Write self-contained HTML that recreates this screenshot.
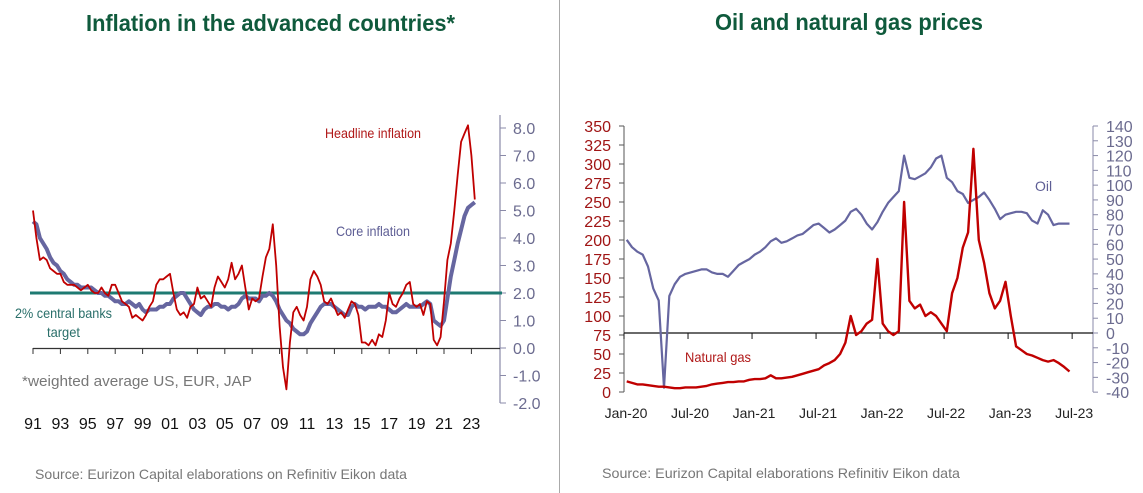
<!DOCTYPE html>
<html><head><meta charset="utf-8"><style>
html,body{margin:0;padding:0;background:#fff;width:1143px;height:493px;overflow:hidden}
svg{display:block;font-family:"Liberation Sans",Arial,sans-serif}
</style></head><body>
<svg id="s" width="1143" height="493" viewBox="0 0 1143 493">
<line x1="559.5" y1="0" x2="559.5" y2="493" stroke="#aaa" stroke-width="1"/>
<text x="86" y="31" font-size="23" font-weight="bold" fill="#0f5a3c" textLength="369" lengthAdjust="spacingAndGlyphs">Inflation in the advanced countries*</text>
<text x="715" y="30" font-size="23" font-weight="bold" fill="#0f5a3c" textLength="268" lengthAdjust="spacingAndGlyphs">Oil and natural gas prices</text>
<g id="left"></g>
<g id="right"></g>
<text x="35" y="479" font-size="14" fill="#777" textLength="372" lengthAdjust="spacingAndGlyphs">Source: Eurizon Capital elaborations on Refinitiv Eikon data</text>
<text x="602" y="478" font-size="14" fill="#777" textLength="358" lengthAdjust="spacingAndGlyphs">Source: Eurizon Capital elaborations Refinitiv  Eikon data</text>
</svg>
<script>
// ---- Left chart data (quarterly, 1991Q1 ..) ----
const inflStartYear = 1991;
const headline = [5.0,4.0,3.2,3.3, 3.2,2.9,2.8,2.7, 2.7,2.4,2.3,2.3, 2.3,2.2,2.1,2.2, 2.3,2.1,2.0,2.0, 2.2,2.0,1.9,2.3, 2.3,2.0,1.7,1.6, 1.5,1.1,1.2,1.1, 1.0,1.2,1.5,1.7, 2.3,2.5,2.5,2.6, 2.7,2.0,1.4,1.2, 1.3,1.1,1.5,1.6, 2.2,1.8,1.9,1.7, 1.5,2.2,2.6,2.4, 2.2,2.5,3.1,2.5, 2.7,3.0,2.2,1.4, 1.8,1.7,1.8,2.6, 3.3,3.6,4.5,3.0, 0.8,-0.7,-1.5,0.2, 1.3,1.5,1.2,1.0, 1.5,2.5,2.8,2.6, 2.3,1.7,1.6,1.8, 1.5,1.2,1.3,1.1, 1.4,1.7,1.6,1.2, 0.2,0.2,0.1,0.3, 0.1,0.5,0.4,1.0, 2.0,1.6,1.5,1.8, 2.0,2.3,2.4,1.6, 1.5,1.6,1.2,1.7, 1.6,0.3,0.1,0.4, 1.7,3.2,3.8,5.0, 6.3,7.5,7.8,8.1, 7.0,5.4];
const core = [4.6,4.5,4.0,3.8, 3.6,3.3,3.1,3.0, 2.8,2.7,2.5,2.4, 2.3,2.3,2.2,2.2, 2.2,2.2,2.1,2.0, 2.0,1.9,1.9,1.8, 1.7,1.7,1.6,1.6, 1.7,1.6,1.5,1.6, 1.4,1.3,1.4,1.4, 1.4,1.5,1.5,1.6, 1.6,1.8,1.9,2.0, 2.0,1.8,1.6,1.4, 1.3,1.2,1.4,1.5, 1.5,1.6,1.6,1.5, 1.5,1.4,1.5,1.5, 1.6,1.8,1.9,1.8, 1.8,1.8,1.7,1.9, 1.9,2.0,1.9,1.7, 1.4,1.2,1.0,0.9, 0.7,0.6,0.5,0.5, 0.6,0.9,1.1,1.3, 1.5,1.6,1.6,1.6, 1.5,1.4,1.3,1.2, 1.2,1.5,1.6,1.5, 1.5,1.4,1.5,1.5, 1.5,1.6,1.5,1.5, 1.4,1.3,1.3,1.4, 1.5,1.6,1.5,1.5, 1.5,1.5,1.6,1.7, 1.6,1.0,0.9,0.8, 1.0,1.8,2.6,3.2, 3.8,4.3,4.8,5.1, 5.2,5.3];
const inflTicks = [8,7,6,5,4,3,2,1,0,-1,-2];
const yearLabels = ["91","93","95","97","99","01","03","05","07","09","11","13","15","17","19","21","23"];
const targetValue = 2;

// ---- Right chart data (half-monthly from Jan-2020) ----
const oil = [63,58, 55,53, 45,30, 22,-37, 25,33, 38,40, 41,42, 43,43, 41,40, 40,38, 42,46, 48,50,
 53,55, 58,62, 64,61, 62,64, 66,67, 70,73, 74,71, 68,70, 73,76, 82,84, 80,74, 70,75,
 82,88, 92,96, 120,105, 104,106, 108,112, 118,120, 105,102, 96,94, 88,90, 92,95, 90,84, 77,80,
 81,82, 82,81, 76,74, 83,80, 73,74, 74,74];
const gas = [14,12, 10,10, 9,8, 7,7, 6,5, 5,6, 6,6, 7,8, 10,11, 12,13, 13,14, 14,16,
 17,17, 18,22, 18,18, 19,20, 22,24, 26,28, 30,35, 38,42, 50,65, 100,75, 80,90, 95,175,
 90,80, 75,80, 250,120, 110,115, 100,105, 100,90, 80,130, 150,190, 210,320, 200,170, 130,110, 120,145,
 100,60, 55,50, 48,45, 42,40, 42,38, 33,27];
const gasTicks = [350,325,300,275,250,225,200,175,150,125,100,75,50,25,0];
const oilTicks = [140,130,120,110,100,90,80,70,60,50,40,30,20,10,0,-10,-20,-30,-40];
const monthLabels = ["Jan-20","Jul-20","Jan-21","Jul-21","Jan-22","Jul-22","Jan-23","Jul-23"];

const NS="http://www.w3.org/2000/svg";
function mk(tag, parent, attrs){const e=document.createElementNS(NS,tag);for(const k in attrs)e.setAttribute(k,attrs[k]);parent.appendChild(e);return e;}

// ---- Left chart ----
const L=document.getElementById('left');
const lx = yr => 33 + (yr - inflStartYear) * 13.7;
const ly = v => 348 - v * 27.5;
const axL = mk('line',L,{x1:500,y1:115,x2:500,y2:403,stroke:'#8a8aa8','stroke-width':1.2});


inflTicks.forEach(v=>{
  const t=mk('line',L,{x1:500,y1:ly(v),x2:506,y2:ly(v),stroke:'#8a8aa8'});
  
  
  const tx=mk('text',L,{x:513,y:ly(v)+6,'font-size':16,fill:'#6b6b8f'});
  tx.textContent=v.toFixed(1);
  
  
});
const xa=mk('line',L,{x1:33,y1:348.5,x2:500,y2:348.5,stroke:'#333','stroke-width':1.2});


yearLabels.forEach((lab,i)=>{
  const x=lx(inflStartYear+2*i);
  const t=mk('line',L,{x1:x,y1:348,x2:x,y2:354,stroke:'#333'});
  
  
  const tx=mk('text',L,{x:x,y:429,'font-size':16,fill:'#111','text-anchor':'middle'});
  tx.textContent=lab;
  
  
});
const tl=mk('line',L,{x1:30,y1:ly(targetValue),x2:502,y2:ly(targetValue),stroke:'#1e7a72','stroke-width':3});


function poly(parent,arr,fx,fy,color,w,name){
  const p=mk('polyline',parent,{points:arr.map((v,i)=>fx(i).toFixed(1)+','+fy(v).toFixed(1)).join(' '),fill:'none',stroke:color,'stroke-width':w,'stroke-linejoin':'round'});
  
  
}
poly(L,core,i=>lx(inflStartYear+i/4),ly,'#6666a0',4,'core-inflation-line');
poly(L,headline,i=>lx(inflStartYear+i/4),ly,'#c00000',1.8,'headline-inflation-line');
function label(parent,txt,x,y,size,color,name,len){
  const t=mk('text',parent,{x:x,y:y,'font-size':size,fill:color});
  if(len){t.setAttribute('textLength',len);t.setAttribute('lengthAdjust','spacingAndGlyphs');}
  t.textContent=txt;
  
  
}
label(L,'Headline inflation',325,138,14,'#b01818','headline-label',96);
label(L,'Core inflation',336,236,14,'#5e5e95','core-label',74);
label(L,'2% central banks',15,318,14,'#2a6f6a','target-label',97);
label(L,'target',47,337,14,'#2a6f6a','target-label-2',33);
label(L,'*weighted average US, EUR, JAP',22,386,15,'#777','footnote',230);

// ---- Right chart ----
const R=document.getElementById('right');
const rx = i => 624 + (i/2 + 0.25) * 10.67;
const gy = v => 392 - v * (266/350);
const oy = v => 333 - v * (207/140);
const la=mk('line',R,{x1:624,y1:126,x2:624,y2:392,stroke:'#555'});


const ra=mk('line',R,{x1:1093,y1:126,x2:1093,y2:392,stroke:'#8a8aa8'});


gasTicks.forEach(v=>{
  const t=mk('line',R,{x1:619,y1:gy(v),x2:624,y2:gy(v),stroke:'#555'});
  
  
  const tx=mk('text',R,{x:611,y:gy(v)+6,'font-size':16,fill:'#a01515','text-anchor':'end'});
  tx.textContent=v;
  
  
});
oilTicks.forEach(v=>{
  const t=mk('line',R,{x1:1093,y1:oy(v),x2:1098,y2:oy(v),stroke:'#8a8aa8'});
  
  
  const tx=mk('text',R,{x:1106,y:oy(v)+6,'font-size':16,fill:'#6b6b8f'});
  tx.textContent=v;
  
  
});
const za=mk('line',R,{x1:624,y1:oy(0),x2:1093,y2:oy(0),stroke:'#111','stroke-width':1.2});


monthLabels.forEach((lab,i)=>{
  const x=624+i*6*10.67;
  const t=mk('line',R,{x1:x,y1:oy(0),x2:x,y2:oy(0)+6,stroke:'#111'});
  
  
  const tx=mk('text',R,{x:x+2,y:418,'font-size':14,fill:'#222','text-anchor':'middle'});
  tx.textContent=lab;
  
  
});
poly(R,oil,rx,oy,'#6666a0',2.2,'oil-line');
poly(R,gas,rx,gy,'#c00000',2.4,'natural-gas-line');
label(R,'Oil',1035,191,14,'#5e5e95','oil-label');
label(R,'Natural gas',685,362,14,'#b01818','gas-label',66);
</script>
</body></html>
